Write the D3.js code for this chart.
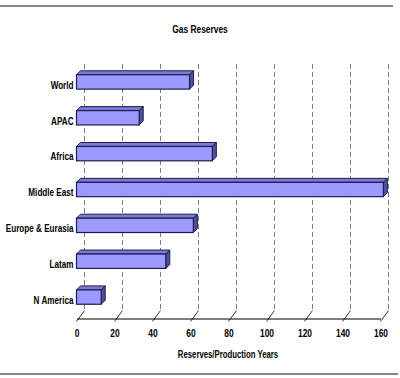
<!DOCTYPE html>
<html>
<head>
<meta charset="utf-8">
<script src="https://cdn.jsdelivr.net/npm/d3@7"></script>
<style>
  html, body { margin: 0; padding: 0; background: #fff; }
  svg { display: block; }
  text { font-family: "Liberation Sans", Arial, sans-serif; font-weight: bold; fill: #000; }
</style>
</head>
<body>
<svg id="chart" width="400" height="378"></svg>
<script>
const categories = ["World", "APAC", "Africa", "Middle East", "Europe & Eurasia", "Latam", "N America"];
const values = [59.5, 33, 71.5, 161.5, 61.5, 47, 13];
const tickValues = [0, 20, 40, 60, 80, 100, 120, 140, 160];
const title = "Gas Reserves";
const xTitle = "Reserves/Production Years";

const svg = d3.select("#chart");
const x = d3.scaleLinear().domain([0, 160]).range([76.5, 380.5]);
const y = d3.scaleBand().domain(categories).range([64, 315]).paddingInner(0.6).paddingOuter(0.3);

const gdx = 7.5, gdy = -8;   // back-plane offset
const bdx = 4, bdy = -4;     // bar depth
const axisY = 318.5;

function condensedText(sel, tx, ty, s, anchor, size, str) {
  return sel.append("text")
    .attr("transform", `translate(${tx},${ty}) scale(${s},1)`)
    .attr("text-anchor", anchor).attr("font-size", size).text(str);
}

// top & bottom rules
svg.append("line").attr("x1", 0).attr("x2", 393).attr("y1", 6).attr("y2", 6)
  .attr("stroke", "#8a8a8a").attr("stroke-width", 2);
svg.append("line").attr("x1", 0).attr("x2", 398).attr("y1", 374).attr("y2", 374)
  .attr("stroke", "#8a8a8a").attr("stroke-width", 2);

// title
condensedText(svg, 200, 33, 0.8, "middle", 10.5, title);

// gridlines on back plane
const grid = svg.append("g");
tickValues.forEach(v => {
  const gx = Math.round(x(v) + gdx) + 0.5;
  grid.append("line").attr("x1", gx).attr("x2", gx).attr("y1", 64).attr("y2", axisY + gdy)
    .attr("stroke", "#808080").attr("stroke-width", 1).attr("stroke-dasharray", "5,3");
  grid.append("line")
    .attr("x1", x(v)).attr("y1", axisY + 3)
    .attr("x2", gx).attr("y2", axisY + gdy)
    .attr("stroke", "#333").attr("stroke-width", 1);
});

// x axis
const xAxis = d3.axisBottom(x).tickValues(tickValues).tickSize(0).tickPadding(11);
const ax = svg.append("g").attr("transform", `translate(0,${axisY})`).call(xAxis);
ax.select(".domain").attr("stroke", "#000").attr("stroke-width", 1.2);
ax.selectAll("text").attr("font-size", 10.5).style("font-family", null)
  .attr("transform", "scale(0.8,1)");

// axis title
condensedText(svg, 228, 358, 0.74, "middle", 10.5, xTitle);

// bars (3D)
const barsG = svg.append("g");
const stroke = "#1e1e4e";
categories.forEach((c, i) => {
  const x0 = x(0), x1 = x(values[i]);
  const y0 = y(c), h = y.bandwidth();
  barsG.append("path")
    .attr("d", `M${x0},${y0} L${x0 + bdx},${y0 + bdy} L${x1 + bdx},${y0 + bdy} L${x1},${y0} Z`)
    .attr("fill", "#7b7bd6").attr("stroke", stroke).attr("stroke-width", 1).attr("stroke-linejoin", "round");
  barsG.append("path")
    .attr("d", `M${x1},${y0} L${x1 + bdx},${y0 + bdy} L${x1 + bdx},${y0 + h + bdy} L${x1},${y0 + h} Z`)
    .attr("fill", "#4e4e9a").attr("stroke", stroke).attr("stroke-width", 1).attr("stroke-linejoin", "round");
  barsG.append("rect")
    .attr("x", x0).attr("y", y0).attr("width", x1 - x0).attr("height", h)
    .attr("fill", "#9a9aff").attr("stroke", stroke).attr("stroke-width", 1.2);
});

// category labels
const ls = 0.74;
const yAxis = d3.axisLeft(y).tickSize(0).tickPadding(3);
const ay = svg.append("g").attr("transform", `translate(${x(0)},0)`).call(yAxis);
ay.select(".domain").remove();
ay.selectAll("text").attr("font-size", 11).style("font-family", null).attr("dy", "0.62em")
  .attr("x", -3 / ls).attr("transform", `scale(${ls},1)`);
</script>
</body>
</html>
